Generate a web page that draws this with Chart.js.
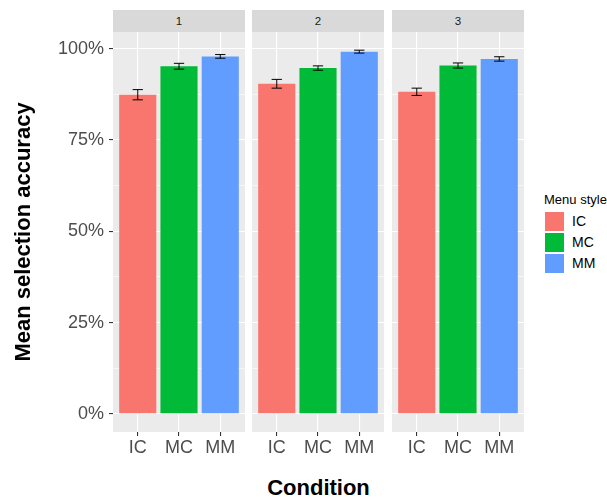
<!DOCTYPE html>
<html>
<head>
<meta charset="utf-8">
<script src="https://cdn.jsdelivr.net/npm/chart.js@4/dist/chart.umd.min.js"></script>
<style>
  html, body { margin: 0; padding: 0; background: #ffffff; }
  body { width: 607px; height: 500px; position: relative; overflow: hidden;
         font-family: "Liberation Sans", Arial, sans-serif; }
  canvas { position: absolute; }
  .strip { position: absolute; top: 10px; height: 22px; width: 132px; background: #d9d9d9;
           color: #1a1a1a; font-size: 11.5px; line-height: 22px; text-align: center; }
  .xtitle { position: absolute; left: 113px; width: 411px; top: 477px; text-align: center;
            font-size: 22px; font-weight: bold; line-height: 22px; color: #000; }
  .legend { position: absolute; left: 544px; top: 192px; color: #000; }
  .legend .ttl { font-size: 13px; line-height: 16px; height: 20px; }
  .legend .row { position: relative; height: 21px; }
  .legend .key { position: absolute; left: 1px; top: 0; width: 19px; height: 19px; }
  .legend .lab { position: absolute; left: 28px; top: 0; font-size: 14px; line-height: 19px; }
</style>
</head>
<body>
<canvas id="panel1" width="245" height="430" style="left:0px;top:32px"></canvas>
<canvas id="panel2" width="132" height="430" style="left:252px;top:32px"></canvas>
<canvas id="panel3" width="132" height="430" style="left:392px;top:32px"></canvas>
<div class="strip" style="left:113px">1</div>
<div class="strip" style="left:252px">2</div>
<div class="strip" style="left:392px">3</div>
<div class="xtitle">Condition</div>
<div class="legend" id="legend"></div>

<script>
// Facets (condition) and bars (menu style)
const conditions = ['1', '2', '3'];
const menuStyles = ['IC', 'MC', 'MM'];

// Mean selection accuracy (%) per menu style, one array per condition
const accuracyCond1 = [87.4, 95.2, 97.9];
const accuracyCond2 = [90.4, 94.7, 99.2];
const accuracyCond3 = [88.2, 95.4, 97.2];

// Standard errors (%) for the error bars
const stdErrCond1 = [1.4, 0.8, 0.5];
const stdErrCond2 = [1.2, 0.6, 0.4];
const stdErrCond3 = [1.0, 0.7, 0.6];

// Labelled y ticks (%)
const yTickValues = [0, 25, 50, 75, 100];

const styleColors = ['#F8766D', '#00BA38', '#619CFF'];
const FONT = '"Liberation Sans", Arial, sans-serif';

// y range: from 0 to the highest error-bar end, widened by 5% on each side
const allMeans = [accuracyCond1, accuracyCond2, accuracyCond3];
const allErrs = [stdErrCond1, stdErrCond2, stdErrCond3];
let yTop = 0;
allMeans.forEach((arr, k) => arr.forEach((v, i) => { yTop = Math.max(yTop, v + allErrs[k][i]); }));
const yMin = -0.05 * yTop;
const yMax = 1.05 * yTop;

// major + minor grid positions
const yGridValues = [];
yTickValues.forEach((v, i) => {
  yGridValues.push(v);
  if (i < yTickValues.length - 1) yGridValues.push((v + yTickValues[i + 1]) / 2);
});
yGridValues.sort((a, b) => a - b);
const isMajor = v => yTickValues.includes(v);

// grey panel background
const panelBackground = {
  id: 'panelBackground',
  beforeDraw(chart) {
    const { ctx, chartArea: a } = chart;
    ctx.save();
    ctx.fillStyle = '#ebebeb';
    ctx.fillRect(a.left, a.top, a.right - a.left, a.bottom - a.top);
    ctx.restore();
  }
};

// mean ± standard error whiskers
const errorBars = {
  id: 'errorBars',
  afterDatasetsDraw(chart) {
    const { ctx, scales: { x, y } } = chart;
    const ds = chart.data.datasets[0];
    ctx.save();
    ctx.strokeStyle = '#000';
    ctx.lineWidth = 1;
    ds.data.forEach((pt, i) => {
      const se = ds.errors[i];
      const px = x.getPixelForValue(pt.x);
      const half = x.getPixelForValue(pt.x + 0.125) - px;
      const yHi = y.getPixelForValue(pt.y + se);
      const yLo = y.getPixelForValue(pt.y - se);
      ctx.beginPath();
      ctx.moveTo(px - half, yHi); ctx.lineTo(px + half, yHi);
      ctx.moveTo(px, yHi); ctx.lineTo(px, yLo);
      ctx.moveTo(px - half, yLo); ctx.lineTo(px + half, yLo);
      ctx.stroke();
    });
    ctx.restore();
  }
};

function makePanel(canvasId, values, errors, showYAxis) {
  return new Chart(document.getElementById(canvasId), {
    type: 'bar',
    data: {
      datasets: [{
        data: values.map((v, i) => ({ x: i + 1, y: v })),
        errors: errors,
        backgroundColor: styleColors,
        borderWidth: 0,
        categoryPercentage: 1,
        barPercentage: 0.9
      }]
    },
    options: {
      responsive: false,
      animation: false,
      events: [],
      layout: { padding: 0 },
      plugins: { legend: { display: false }, tooltip: { enabled: false }, title: { display: false } },
      scales: {
        x: {
          type: 'linear',
          min: 0.4,
          max: 3.6,
          offset: false,
          afterBuildTicks: s => { s.ticks = menuStyles.map((_, i) => ({ value: i + 1 })); },
          afterFit: s => { s.height = 30; s.paddingLeft = 0; s.paddingRight = 0; },
          ticks: {
            callback: v => menuStyles[v - 1],
            font: { family: FONT, size: 18 },
            color: '#4d4d4d',
            padding: 1,
            maxRotation: 0,
            autoSkip: false
          },
          grid: {
            offset: false,
            color: '#ffffff',
            lineWidth: 1.1,
            tickColor: '#333333',
            tickLength: 4,
            tickWidth: 1.1
          },
          border: { display: false }
        },
        y: {
          type: 'linear',
          min: yMin,
          max: yMax,
          afterBuildTicks: s => { s.ticks = yGridValues.map(v => ({ value: v })); },
          afterFit: s => { s.width = showYAxis ? 113 : 0; s.paddingTop = 0; s.paddingBottom = 0; },
          ticks: {
            display: showYAxis,
            callback: v => isMajor(v) ? v + '%' : '',
            font: { family: FONT, size: 18 },
            color: '#4d4d4d',
            padding: 5
          },
          grid: {
            color: '#ffffff',
            lineWidth: c => (c.tick && isMajor(c.tick.value)) ? 1.1 : 0.55,
            drawTicks: showYAxis,
            tickLength: showYAxis ? 4 : 0,
            tickWidth: 1.1,
            tickColor: c => (c.tick && isMajor(c.tick.value)) ? '#333333' : 'rgba(0,0,0,0)'
          },
          border: { display: false },
          title: {
            display: showYAxis,
            text: 'Mean selection accuracy',
            color: '#000000',
            font: { family: FONT, size: 22, weight: 'bold' },
            padding: { top: 11, bottom: 0 }
          }
        }
      }
    },
    plugins: [panelBackground, errorBars]
  });
}

makePanel('panel1', accuracyCond1, stdErrCond1, true);
makePanel('panel2', accuracyCond2, stdErrCond2, false);
makePanel('panel3', accuracyCond3, stdErrCond3, false);

// legend
const legend = document.getElementById('legend');
const ttl = document.createElement('div');
ttl.className = 'ttl';
ttl.textContent = 'Menu style';
legend.appendChild(ttl);
menuStyles.forEach((name, i) => {
  const row = document.createElement('div');
  row.className = 'row';
  const key = document.createElement('div');
  key.className = 'key';
  key.style.background = styleColors[i];
  const lab = document.createElement('div');
  lab.className = 'lab';
  lab.textContent = name;
  row.appendChild(key);
  row.appendChild(lab);
  legend.appendChild(row);
});
</script>
</body>
</html>
